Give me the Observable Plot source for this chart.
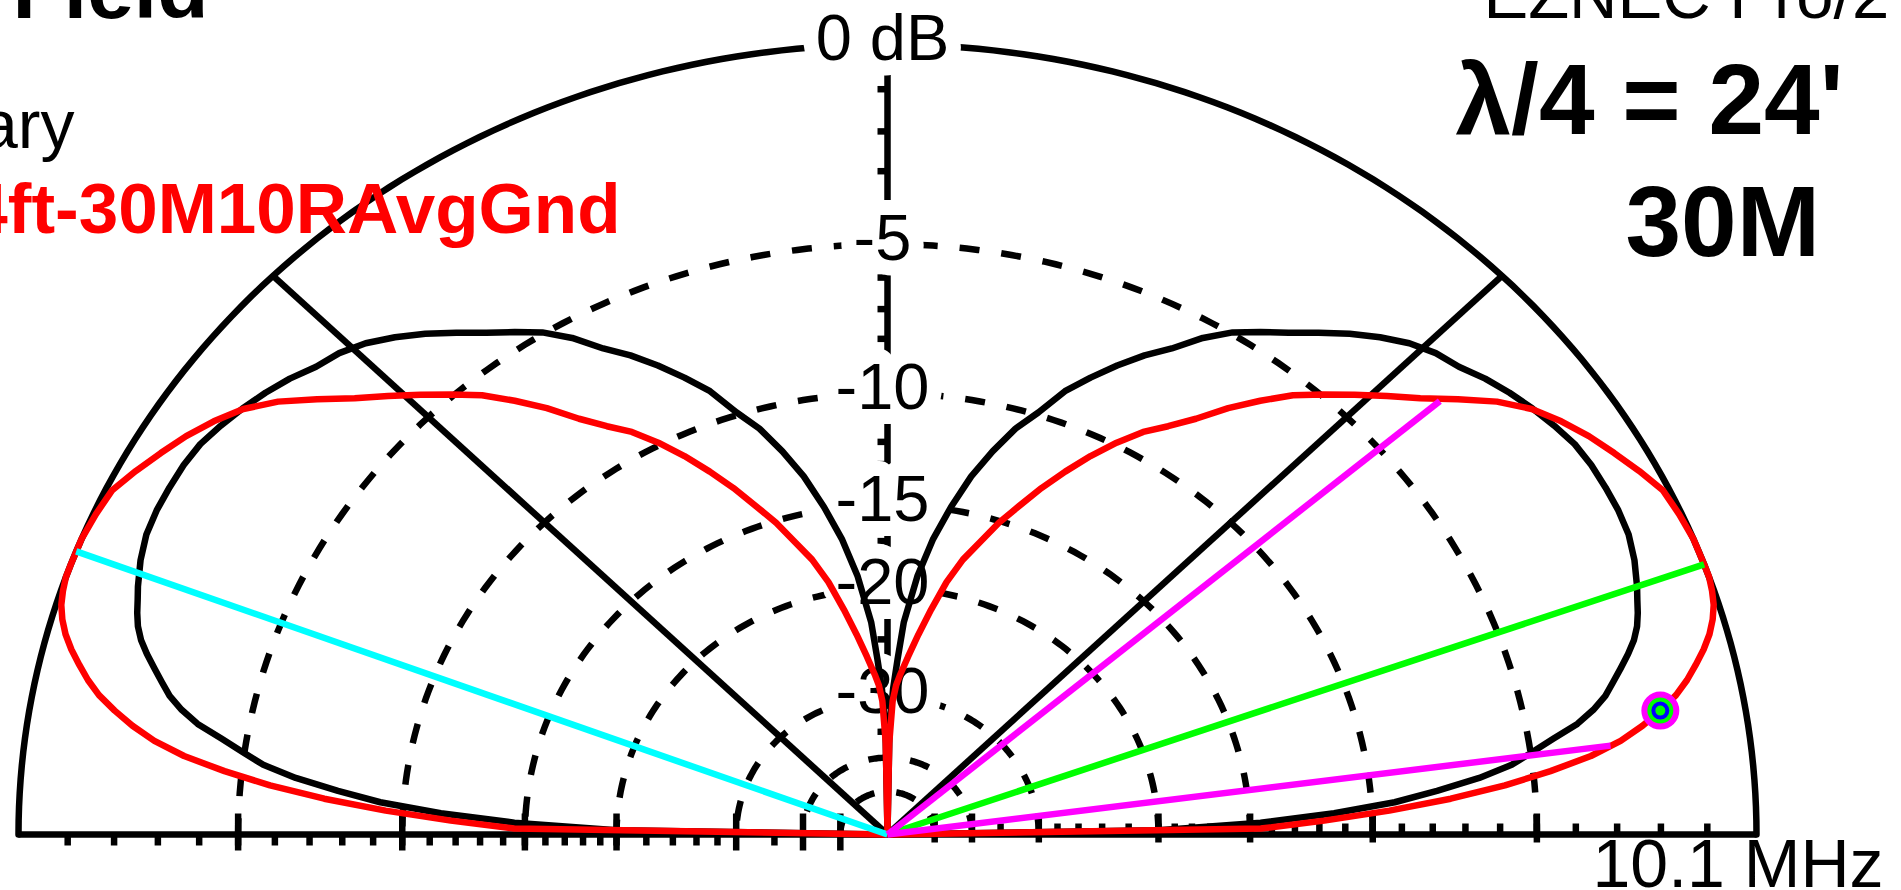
<!DOCTYPE html>
<html>
<head>
<meta charset="utf-8">
<script src="https://cdn.jsdelivr.net/npm/d3@7"></script>
<script src="https://cdn.jsdelivr.net/npm/@observablehq/plot@0.6"></script>
<style>
  html, body { margin: 0; padding: 0; background: #fff; overflow: hidden; }
  #chart svg { display: block; }
</style>
</head>
<body>
<div id="chart"></div>
<script>
// Elevation angles, degrees above the horizon (0 = right horizon, 180 = left horizon)
const elevation = [
  0,1,2,3,4,5,6,7,8,9,10,11,12,13,14,15,16,17,18,19,20,
  22,24,26,28,30,32,34,36,38,40,42,44,46,48,50,52,54,56,58,60,62,64,66,68,70,72,74,76,78,80,82,84,86,
  87,88,89,90,91,92,93,
  94,96,98,100,102,104,106,108,110,112,114,116,118,120,122,124,126,128,130,132,134,136,138,140,142,144,146,148,150,152,154,156,158,
  160,161,162,163,164,165,166,167,168,169,170,171,172,173,174,175,176,177,178,179,180
];

// Primary trace (black), dB relative to the outer ring
const primaryDb = [
  -99,-20,-14.5,-11.4,-9.2,-7.8,-6.5,-5.55,-4.95,-4.35,-3.7,-3.25,-2.9,-2.65,-2.4,-2.15,-1.93,-1.77,-1.66,-1.57,-1.47,
  -1.3,-1.18,-1.14,-1.14,-1.15,-1.2,-1.33,-1.48,-1.65,-1.85,-2.1,-2.25,-2.5,-2.85,-3.25,-3.7,-4.15,-4.55,-4.95,-5.5,-6.2,-6.75,-7.4,-8.1,-8.85,-9.9,-10.75,-11.9,-13.2,-14.85,-16.7,-19.1,-22.5,
  -25.8,-29,-34,-99,-34,-29,-25.8,
  -22.5,-19.1,-16.7,-14.85,-13.2,-11.9,-10.75,-9.9,-8.85,-8.1,-7.4,-6.75,-6.2,-5.5,-4.95,-4.55,-4.15,-3.7,-3.25,-2.85,-2.5,-2.25,-2.1,-1.85,-1.65,-1.48,-1.33,-1.2,-1.15,-1.14,-1.14,-1.18,-1.3,
  -1.47,-1.57,-1.66,-1.77,-1.93,-2.15,-2.4,-2.65,-2.9,-3.25,-3.7,-4.35,-4.95,-5.55,-6.5,-7.8,-9.2,-11.4,-14.5,-20,-99
];

// 24 ft vertical, 30 m, 10 radials, average ground (red), dB relative to the outer ring
const comparedDb = [
  -99,-14.5,-11.8,-9.4,-7.4,-5.8,-4.55,-3.5,-2.75,-2.2,-1.75,-1.35,-1.05,-0.8,-0.56,-0.36,-0.21,-0.1,-0.04,0,0,
  0,-0.05,-0.12,-0.35,-0.6,-0.85,-1.15,-1.5,-2.0,-2.65,-3.3,-3.85,-4.4,-4.95,-5.5,-6.2,-6.95,-7.8,-8.5,-9.1,-9.9,-10.8,-11.8,-12.85,-14.0,-15.1,-16.4,-17.6,-19.2,-21.3,-23.4,-25.5,-27.5,
  -28.6,-30.5,-37,-99,-37,-30.5,-28.6,
  -27.5,-25.5,-23.4,-21.3,-19.2,-17.6,-16.4,-15.1,-14.0,-12.85,-11.8,-10.8,-9.9,-9.1,-8.5,-7.8,-6.95,-6.2,-5.5,-4.95,-4.4,-3.85,-3.3,-2.65,-2.0,-1.5,-1.15,-0.85,-0.6,-0.35,-0.12,-0.05,0,
  0,0,-0.04,-0.1,-0.21,-0.36,-0.56,-0.8,-1.05,-1.35,-1.75,-2.2,-2.75,-3.5,-4.55,-5.8,-7.4,-9.4,-11.8,-14.5,-99
];

// Grid: rings (dB), their labels, radial lines and scale ticks
const ringDb = [0, -5, -10, -15, -20, -30, -40, -50];
const ringLabelDb = [0, -5, -10, -15, -20, -30];
const ringLabelText = ["0 dB", "-5", "-10", "-15", "-20", "-30"];
const radialDeg = [45, 135];
const tickDb = [-1,-2,-3,-4,-5,-6,-7,-8,-9,-10,-11,-12,-13,-14,-15,-16,-17,-18,-19,-20,-22,-24,-26,-28,-35];
const longTickDb = [-5, -10, -15, -20, -30, -40, -50];

// Cursor / maximum / half-power directions of the red trace
const cursorDeg = [159];
const peakDeg = [20];
const halfPowerDeg = [7.7, 40.8];
const halfPowerDb = -3;
const markerDeg = [10];

// ARRL log-periodic radial scale: each 2 dB shrinks the radius by 0.89
const arrl = db => Math.pow(0.89, -db / 2);
const polar = (deg, db) => {
  const r = arrl(db), a = deg * Math.PI / 180;
  return {x: r * Math.cos(a), y: r * Math.sin(a)};
};

const W = 1901, H = 890;
const cx = 887, cy = 834, rx = 869, ry = 790;   // plot centre and outer-ring radii in px
const LW = 6.5;

const primary = elevation.map((deg, i) => ({deg, db: primaryDb[i], ...polar(deg, primaryDb[i])}));
const compared = elevation.map((deg, i) => ({deg, db: comparedDb[i], ...polar(deg, comparedDb[i])}));

const ringPts = ringDb.flatMap(db => d3.range(0, 180.5, 1).map(deg => ({db, ...polar(deg, db)})));
const radials = radialDeg.map(deg => polar(deg, 0));
const baseEnds = [polar(180, 0), polar(0, 0)];

const markerPts = markerDeg.map(deg => {
  const db = comparedDb[elevation.indexOf(deg)];
  return polar(deg, db);
});

const px = v => v / rx, py = v => v / ry;

const textFont = "Liberation Sans, Arial, Helvetica, sans-serif";

const chart = Plot.plot({
  width: W,
  height: H,
  margin: 0,
  style: {fontFamily: textFont, background: "#fff", overflow: "hidden"},
  x: {domain: [-cx / rx, (W - cx) / rx], axis: null},
  y: {domain: [(cy - H) / ry, cy / ry], axis: null},
  marks: [
    // dashed inner rings
    Plot.line(ringPts.filter(d => d.db < 0), {
      x: "x", y: "y", z: "db", stroke: "#000", strokeWidth: LW,
      strokeDasharray: "20,22", strokeLinecap: "butt", curve: "linear"
    }),
    // outer (0 dB) ring
    Plot.line(ringPts.filter(d => d.db === 0), {x: "x", y: "y", stroke: "#000", strokeWidth: LW}),
    // 45° radial lines
    Plot.link(radials, {x1: () => 0, y1: () => 0, x2: "x", y2: "y", stroke: "#000", strokeWidth: LW}),
    // horizon line
    Plot.link([baseEnds], {x1: d => d[0].x, y1: () => 0, x2: d => d[1].x, y2: () => 0, stroke: "#000", strokeWidth: LW}),
    // vertical dB axis
    Plot.link([0], {x1: () => 0, y1: () => 0, x2: () => 0, y2: () => 1, stroke: "#000", strokeWidth: LW}),
    Plot.link(tickDb, {x1: () => 0, x2: () => -px(10), y1: d => arrl(d), y2: d => arrl(d), stroke: "#000", strokeWidth: LW}),
    // horizon ticks: left side hang below, right side stand above
    Plot.link(tickDb, {x1: d => -arrl(d), x2: d => -arrl(d), y1: () => 0, y2: () => -py(11), stroke: "#000", strokeWidth: LW}),
    Plot.link(tickDb, {x1: d => arrl(d), x2: d => arrl(d), y1: () => 0, y2: () => py(11), stroke: "#000", strokeWidth: LW}),
    Plot.link(longTickDb, {x1: d => -arrl(d), x2: d => -arrl(d), y1: () => py(21), y2: () => -py(16), stroke: "#000", strokeWidth: LW}),
    Plot.link(longTickDb, {x1: d => arrl(d), x2: d => arrl(d), y1: () => py(21), y2: () => -py(8), stroke: "#000", strokeWidth: LW}),
    // ring labels on the vertical axis
    Plot.text(ringLabelDb, {
      x: () => 0, y: d => arrl(d), text: (d, i) => ringLabelText[i],
      fontSize: 65, dx: -5, dy: -5, lineAnchor: "middle", textAnchor: "middle",
      fill: "#000", stroke: "#fff", strokeWidth: 30, paintOrder: "stroke"
    }),
    // traces
    Plot.line(primary, {x: "x", y: "y", stroke: "#000", strokeWidth: LW, strokeLinejoin: "round"}),
    Plot.line(compared, {x: "x", y: "y", stroke: "#ff0000", strokeWidth: LW, strokeLinejoin: "round"}),
    // cursor, maximum and half-power lines
    Plot.link(cursorDeg, {x1: () => 0, y1: () => 0, x2: d => polar(d, 0).x, y2: d => polar(d, 0).y, stroke: "#00ffff", strokeWidth: LW}),
    Plot.link(peakDeg, {x1: () => 0, y1: () => 0, x2: d => polar(d, 0).x, y2: d => polar(d, 0).y, stroke: "#00ff00", strokeWidth: LW}),
    Plot.link(halfPowerDeg, {x1: () => 0, y1: () => 0, x2: d => polar(d, halfPowerDb).x, y2: d => polar(d, halfPowerDb).y, stroke: "#ff00ff", strokeWidth: LW}),
    // cursor marker on the red trace
    Plot.dot(markerPts, {x: "x", y: "y", r: 16, fill: "#00ff00", stroke: "#ff00ff", strokeWidth: 6}),
    Plot.dot(markerPts, {x: "x", y: "y", r: 7, fill: "none", stroke: "#0000ff", strokeWidth: 4}),
    // annotations
    Plot.text(["Total Field"], {text: d => d, frameAnchor: "top-left", textAnchor: "end", lineAnchor: "bottom", dx: 208, dy: 17, fontSize: 84, fontWeight: "bold", fill: "#000"}),
    Plot.text(["EZNEC Pro/2"], {text: d => d, frameAnchor: "top-left", textAnchor: "start", lineAnchor: "bottom", dx: 1483, dy: 17, fontSize: 67, fill: "#000"}),
    Plot.text(["Primary"], {text: d => d, frameAnchor: "top-left", textAnchor: "end", lineAnchor: "bottom", dx: 74, dy: 147, fontSize: 68, fill: "#000"}),
    Plot.text(["24ft-30M10RAvgGnd"], {text: d => d, frameAnchor: "top-left", textAnchor: "end", lineAnchor: "bottom", dx: 620, dy: 232, fontSize: 71, fontWeight: "bold", fill: "#ff0000"}),
    Plot.text(["λ/4 = 24'"], {text: d => d, frameAnchor: "top-left", textAnchor: "start", lineAnchor: "bottom", dx: 1455, dy: 133, fontSize: 100, fontWeight: "bold", fill: "#000"}),
    Plot.text(["30M"], {text: d => d, frameAnchor: "top-left", textAnchor: "start", lineAnchor: "bottom", dx: 1625, dy: 255, fontSize: 100, fontWeight: "bold", fill: "#000"}),
    Plot.text(["10.1 MHz"], {text: d => d, frameAnchor: "top-left", textAnchor: "start", lineAnchor: "bottom", dx: 1592, dy: 886, fontSize: 68, fill: "#000"})
  ]
});

document.getElementById("chart").appendChild(chart);
</script>
</body>
</html>
